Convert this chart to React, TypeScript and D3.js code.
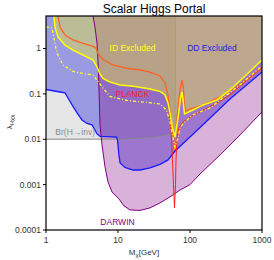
import React from 'react'
import * as d3 from 'd3'

// mass in GeV, coupling lambda_Hxx
const massTicks = [1, 10, 100, 1000]
const lambdaTicks = [1, 0.1, 0.01, 0.001, 0.0001]
const lambdaTickLabels = ['1', '0.1', '0.01', '0.001', '0.0001']
const higgsHalf = 62.5

const brInv = [[1, 0.01], [13.2, 0.0101], [30.6, 0.011], [47.5, 0.0124], [58, 0.014], [62.5, 0.0155]]

const ddCurrent = [
  [1, 0.125], [1.565, 0.11], [1.836, 0.105], [2.02, 0.081], [2.3, 0.057], [2.7, 0.038],
  [3.16, 0.0266], [3.71, 0.0223], [4.35, 0.0207], [4.79, 0.016], [5.11, 0.0131], [5.62, 0.0116],
  [7.03, 0.0114], [9.53, 0.0111], [9.84, 0.0097], [10.3, 0.0045], [10.7, 0.003], [12.5, 0.0024],
  [16.2, 0.0021], [20.2, 0.0021], [27.8, 0.00233], [38.3, 0.00279], [49.5, 0.0035], [61.9, 0.0055],
  [100, 0.0112], [190, 0.0294], [359, 0.0773], [1000, 0.303],
]

const darwin = [
  [4.5, 5.2], [4.79, 2.98], [5.11, 1.32], [5.27, 0.558], [5.45, 0.122], [5.62, 0.0207], [6.0, 0.0075],
  [6.6, 0.00246], [7.26, 0.00115], [8.25, 0.00069], [10.3, 0.000484], [12.1, 0.00034], [14.7, 0.000277],
  [20.2, 0.00027], [27.8, 0.000307], [38.3, 0.000395], [52.7, 0.000536], [72.6, 0.00076], [100, 0.001],
  [138, 0.00172], [261, 0.0045], [494, 0.0124], [1000, 0.04],
]

const idSolid = [
  [1.29, 5.2], [1.33, 2.98], [1.47, 1.79], [1.84, 1.19], [2.37, 0.927], [3.27, 0.72], [4.5, 0.558],
  [5.11, 0.391], [5.62, 0.274], [6.19, 0.218], [7.74, 0.183], [10.7, 0.157], [17.2, 0.146], [27.8, 0.128],
  [38.3, 0.113], [45, 0.0946], [49.5, 0.0631], [53.6, 0.0326], [57.1, 0.0177], [61.9, 0.0112],
  [65.9, 0.0207], [69.2, 0.0343], [73.8, 0.0813], [77.4, 0.11], [81.3, 0.057], [83.9, 0.036],
  [90.8, 0.038], [110, 0.0442], [152, 0.057], [237, 0.0734], [359, 0.122], [545, 0.224], [1000, 0.558],
]

const idDashed = [
  [1, 2.98], [1.21, 2.83], [1.33, 1.32], [1.42, 0.794], [1.72, 0.433], [2.37, 0.311], [3.27, 0.281],
  [4.5, 0.26], [5.27, 0.188], [6.19, 0.135], [7.74, 0.0877], [13.3, 0.0716], [25.3, 0.0647], [38.3, 0.06],
  [47.2, 0.0442], [52.7, 0.024], [57.1, 0.0124], [61.9, 0.00676], [68.1, 0.0107], [72.6, 0.0177],
  [80, 0.0217], [90.8, 0.0266], [110, 0.0343], [190, 0.049], [287, 0.0813], [494, 0.157], [1000, 0.412],
]

const orangeLimit = [
  [1.47, 5.2], [1.565, 2.98], [1.84, 1.98], [2.37, 1.54], [3.27, 1.29], [4.5, 1.11], [5.03, 1.0],
  [5.19, 0.796], [6.19, 0.573], [8.52, 0.433], [13.3, 0.363], [20.2, 0.336], [27.8, 0.303], [38.3, 0.248],
  [45, 0.174], [49.5, 0.09], [53.6, 0.0343], [57.1, 0.0145], [60.9, 0.0058], [65.9, 0.0294], [69.2, 0.0631],
  [73.8, 0.142], [77.4, 0.202], [80.7, 0.149], [83.4, 0.0631], [86.6, 0.042], [100, 0.0465], [138, 0.054],
  [190, 0.0664], [261, 0.0855], [422, 0.135], [681, 0.236], [1000, 0.391],
]

const planck = [
  [51.1, 0.0399], [54.5, 0.016], [57.1, 0.0035], [59, 0.00099], [60.9, 0.000307], [62.9, 0.00099],
  [63.9, 0.0035], [65.9, 0.0097], [70.3, 0.0177], [80, 0.024], [100, 0.0308], [138, 0.04], [222, 0.06],
  [359, 0.0946], [580, 0.183], [1000, 0.372],
]

const W = 274
const H = 260
const margin = { top: 16, right: 12, bottom: 30, left: 46 }
const font = 'Liberation Sans, Arial, sans-serif'

export default function App() {
  const x = d3.scaleLog().domain([1, 1000]).range([margin.left, W - margin.right])
  const y = d3.scaleLog().domain([0.0001, 5.2]).range([H - margin.bottom, margin.top])
  const top = y(5.2)

  const line = d3.line<number[]>().x(d => x(d[0])).y(d => y(d[1]))
  const areaAbove = d3.area<number[]>().x(d => x(d[0])).y0(top).y1(d => y(d[1]))

  return (
    <svg width={W} height={H} style={{ position: 'absolute', left: 0, top: 0, background: '#fff' }}
      fontFamily={font}>
      <defs>
        <clipPath id="plotClip">
          <rect x={margin.left} y={margin.top} width={W - margin.left - margin.right}
            height={H - margin.top - margin.bottom} />
        </clipPath>
      </defs>
      <text x={154} y={12.5} textAnchor="middle" fontSize={12} fill="#000">Scalar Higgs Portal</text>

      <g clipPath="url(#plotClip)">
        {/* excluded regions, layered with transparency */}
        <path d={areaAbove(brInv) || ''} fill="#e6e6e6" />
        <path d={areaAbove(ddCurrent) || ''} fill="rgb(40,40,220)" fillOpacity={0.4} />
        <path d={areaAbove(darwin) || ''} fill="rgb(128,0,128)" fillOpacity={0.3} />
        <path d={areaAbove(idSolid) || ''} fill="rgb(230,230,60)" fillOpacity={0.45} />

        <line x1={x(higgsHalf)} x2={x(higgsHalf)} y1={top} y2={y(0.02)} stroke="#a8a060" strokeWidth={1} />

        <path d={line(brInv) || ''} fill="none" stroke="#888" strokeWidth={1} />
        <path d={line(darwin) || ''} fill="none" stroke="#800080" strokeWidth={1} />
        <path d={line(ddCurrent) || ''} fill="none" stroke="#1a1aff" strokeWidth={1.3} />
        <path d={line(planck) || ''} fill="none" stroke="#ff2020" strokeWidth={1} />
        <path d={line(orangeLimit) || ''} fill="none" stroke="#ff6020" strokeWidth={1.3} />
        <path d={line(idDashed) || ''} fill="none" stroke="#ffff20" strokeWidth={1.3} strokeDasharray="3,2,1,2" />
        <path d={line(idSolid) || ''} fill="none" stroke="#ffff00" strokeWidth={1.5} />
      </g>

      <g fontSize={8.5}>
        <text x={132.5} y={51} textAnchor="middle" fill="#ffff20">ID Excluded</text>
        <text x={212} y={51} textAnchor="middle" fill="#2020e0">DD Excluded</text>
        <text x={132.5} y={97} textAnchor="middle" fill="#ff2020">PLANCK</text>
        <text x={95} y={135} textAnchor="end" fill="#888">Br(H→inv)</text>
        <text x={117.5} y={225} textAnchor="middle" fill="#800080">DARWIN</text>
      </g>

      <rect x={margin.left} y={margin.top} width={W - margin.left - margin.right}
        height={H - margin.top - margin.bottom} fill="none" stroke="#000" strokeWidth={1.2} />

      {massTicks.map(m => (
        <g key={'x' + m}>
          <line x1={x(m)} x2={x(m)} y1={H - margin.bottom} y2={H - margin.bottom + 3} stroke="#000" />
          <text x={x(m)} y={H - margin.bottom + 13} textAnchor="middle" fontSize={8.5} fill="#333">{m}</text>
        </g>
      ))}
      {lambdaTicks.map((l, i) => (
        <g key={'y' + l}>
          <line x1={margin.left - 3} x2={margin.left} y1={y(l)} y2={y(l)} stroke="#000" />
          <text x={margin.left - 5} y={y(l) + 3} textAnchor="end" fontSize={8.5} fill="#333">{lambdaTickLabels[i]}</text>
        </g>
      ))}

      <text x={144} y={255} textAnchor="middle" fontSize={8} fill="#333">
        M<tspan fontSize={6} dy={2}>χ</tspan><tspan dy={-2}>[GeV]</tspan>
      </text>
      <text transform="translate(12,122) rotate(-90)" textAnchor="middle" fontSize={8} fill="#333">
        λ<tspan fontSize={6} dy={2}>Hχχ</tspan>
      </text>
    </svg>
  )
}
